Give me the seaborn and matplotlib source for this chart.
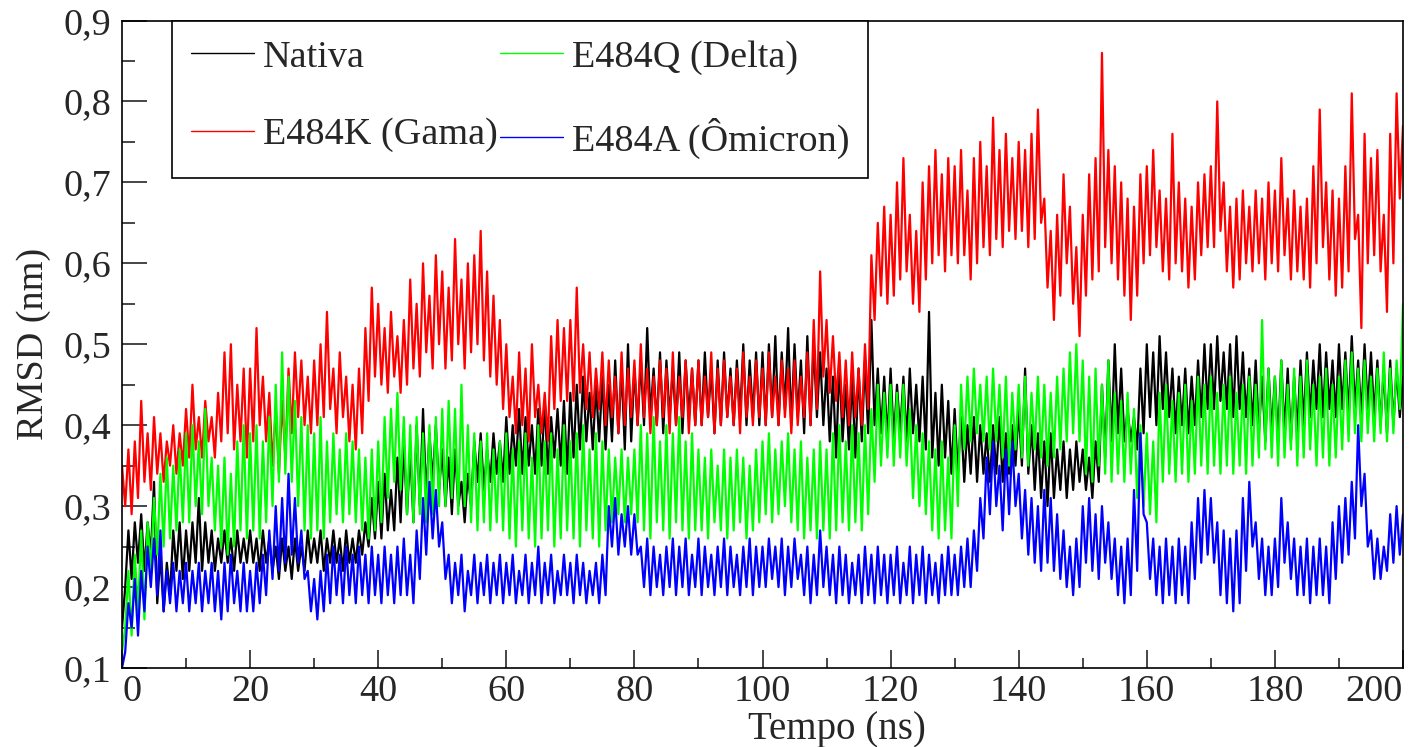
import numpy as np
import pandas as pd
import matplotlib
matplotlib.use("Agg")
import matplotlib.pyplot as plt
import seaborn as sns
from matplotlib.ticker import MultipleLocator, FuncFormatter, FixedLocator

series_names = ["Nativa", "E484K (Gama)", "E484Q (Delta)", "E484A (Ômicron)"]
series_colors = ["#000000", "#ff0000", "#00ff00", "#0000ff"]
x_ticks = [0, 20, 40, 60, 80, 100, 120, 140, 160, 180, 200]
y_ticks = [0.1, 0.2, 0.3, 0.4, 0.5, 0.6, 0.7, 0.8, 0.9]

# Each noisy trace is read as its upper edge (t = 0, 1, ..., 200 ns)
# and its lower edge (t = 0.5, 1.5, ..., 199.5 ns), in nm.
nativa_hi = [
    0.15, 0.27, 0.28, 0.29, 0.28, 0.33, 0.24, 0.23, 0.27, 0.28,
    0.27, 0.28, 0.31, 0.28, 0.27, 0.26, 0.27, 0.26, 0.27, 0.26,
    0.27, 0.26, 0.27, 0.26, 0.25, 0.26, 0.25, 0.26, 0.25, 0.27,
    0.26, 0.27, 0.26, 0.27, 0.26, 0.27, 0.26, 0.27, 0.28, 0.31,
    0.33, 0.34, 0.32, 0.36, 0.38, 0.37, 0.40, 0.42, 0.39, 0.40,
    0.37, 0.36, 0.37, 0.33, 0.34, 0.38, 0.39, 0.37, 0.39, 0.38,
    0.41, 0.40, 0.42, 0.41, 0.40, 0.42, 0.43, 0.41, 0.42, 0.43,
    0.44, 0.45, 0.46, 0.44, 0.45, 0.46, 0.45, 0.48, 0.47, 0.50,
    0.47, 0.48, 0.52, 0.47, 0.49, 0.48, 0.47, 0.49, 0.48, 0.47,
    0.48, 0.49, 0.47, 0.48, 0.49, 0.47, 0.48, 0.50, 0.48, 0.49,
    0.49, 0.50, 0.51, 0.49, 0.52, 0.50, 0.48, 0.51, 0.50, 0.49,
    0.47, 0.46, 0.48, 0.45, 0.46, 0.47, 0.48, 0.53, 0.47, 0.46,
    0.47, 0.45, 0.46, 0.47, 0.45, 0.46, 0.54, 0.44, 0.45, 0.43,
    0.42, 0.41, 0.40, 0.41, 0.40, 0.39, 0.40, 0.41, 0.39, 0.40,
    0.42, 0.47, 0.40, 0.39, 0.38, 0.39, 0.37, 0.38, 0.37, 0.38,
    0.37, 0.36, 0.38, 0.45, 0.48, 0.50, 0.47, 0.42, 0.41, 0.47,
    0.50, 0.49, 0.51, 0.49, 0.47, 0.46, 0.47, 0.46, 0.48, 0.50,
    0.50, 0.51, 0.49, 0.50, 0.51, 0.49, 0.47, 0.48, 0.46, 0.47,
    0.46, 0.48, 0.47, 0.46, 0.48, 0.49, 0.48, 0.50, 0.49, 0.48,
    0.50, 0.49, 0.51, 0.48, 0.50, 0.49, 0.48, 0.47, 0.48, 0.47,
    0.46,
]
nativa_lo = [
    0.20, 0.21, 0.23, 0.22, 0.24, 0.18, 0.17, 0.19, 0.22, 0.21,
    0.22, 0.23, 0.22, 0.23, 0.22, 0.23, 0.23, 0.22, 0.23, 0.23,
    0.23, 0.22, 0.23, 0.22, 0.21, 0.22, 0.21, 0.22, 0.22, 0.23,
    0.23, 0.22, 0.23, 0.23, 0.22, 0.23, 0.23, 0.24, 0.25, 0.26,
    0.26, 0.27, 0.27, 0.28, 0.29, 0.28, 0.30, 0.31, 0.33, 0.32,
    0.30, 0.29, 0.30, 0.28, 0.30, 0.33, 0.32, 0.33, 0.34, 0.33,
    0.34, 0.35, 0.34, 0.35, 0.34, 0.35, 0.34, 0.36, 0.35, 0.34,
    0.36, 0.37, 0.38, 0.37, 0.38, 0.37, 0.38, 0.39, 0.37, 0.38,
    0.40, 0.40, 0.41, 0.40, 0.39, 0.41, 0.40, 0.39, 0.41, 0.40,
    0.40, 0.41, 0.39, 0.40, 0.41, 0.40, 0.41, 0.40, 0.41, 0.40,
    0.40, 0.41, 0.40, 0.42, 0.40, 0.41, 0.39, 0.40, 0.41, 0.40,
    0.38, 0.36, 0.38, 0.37, 0.36, 0.38, 0.39, 0.40, 0.39, 0.38,
    0.38, 0.39, 0.38, 0.39, 0.38, 0.37, 0.36, 0.35, 0.36, 0.34,
    0.34, 0.33, 0.34, 0.33, 0.34, 0.33, 0.34, 0.33, 0.34, 0.35,
    0.35, 0.34, 0.32, 0.31, 0.30, 0.31, 0.32, 0.31, 0.32, 0.33,
    0.32, 0.31, 0.33, 0.36, 0.38, 0.39, 0.38, 0.38, 0.37, 0.39,
    0.41, 0.40, 0.42, 0.41, 0.39, 0.40, 0.39, 0.40, 0.41, 0.42,
    0.42, 0.43, 0.42, 0.41, 0.42, 0.41, 0.40, 0.39, 0.38, 0.39,
    0.38, 0.39, 0.38, 0.39, 0.40, 0.41, 0.42, 0.41, 0.42, 0.41,
    0.42, 0.41, 0.42, 0.41, 0.42, 0.41, 0.40, 0.39, 0.40, 0.41,
]

gama_hi = [
    0.35, 0.37, 0.38, 0.43, 0.39, 0.41, 0.39, 0.38, 0.40, 0.39,
    0.42, 0.45, 0.41, 0.43, 0.41, 0.44, 0.49, 0.50, 0.45, 0.47,
    0.47, 0.52, 0.46, 0.44, 0.42, 0.43, 0.47, 0.49, 0.48, 0.46,
    0.48, 0.50, 0.54, 0.47, 0.49, 0.46, 0.45, 0.47, 0.52, 0.57,
    0.55, 0.52, 0.54, 0.51, 0.53, 0.58, 0.55, 0.60, 0.56, 0.61,
    0.59, 0.57, 0.63, 0.58, 0.60, 0.61, 0.64, 0.59, 0.56, 0.53,
    0.50, 0.46, 0.49, 0.47, 0.50, 0.45, 0.44, 0.51, 0.53, 0.52,
    0.53, 0.57, 0.50, 0.49, 0.47, 0.49, 0.48, 0.46, 0.49, 0.47,
    0.48, 0.50, 0.47, 0.46, 0.48, 0.47, 0.49, 0.46, 0.48, 0.47,
    0.48, 0.46, 0.49, 0.47, 0.48, 0.46, 0.47, 0.49, 0.46, 0.48,
    0.47, 0.49, 0.46, 0.48, 0.47, 0.48, 0.46, 0.49, 0.53, 0.59,
    0.53, 0.51, 0.49, 0.48, 0.49, 0.47, 0.50, 0.61, 0.65, 0.67,
    0.66, 0.70, 0.73, 0.66, 0.64, 0.70, 0.72, 0.74, 0.71, 0.73,
    0.72, 0.74, 0.69, 0.73, 0.75, 0.72, 0.78, 0.74, 0.76, 0.73,
    0.75, 0.74, 0.76, 0.79, 0.68, 0.64, 0.66, 0.71, 0.67, 0.62,
    0.66, 0.71, 0.73, 0.86, 0.74, 0.72, 0.70, 0.68, 0.67, 0.71,
    0.72, 0.74, 0.69, 0.68, 0.76, 0.70, 0.68, 0.67, 0.70, 0.71,
    0.72, 0.80, 0.70, 0.67, 0.68, 0.69, 0.67, 0.69, 0.68, 0.70,
    0.69, 0.73, 0.68, 0.69, 0.67, 0.68, 0.72, 0.79, 0.70, 0.69,
    0.68, 0.72, 0.81, 0.66, 0.76, 0.73, 0.74, 0.66, 0.76, 0.81,
    0.77,
]
gama_lo = [
    0.30, 0.29, 0.31, 0.33, 0.32, 0.34, 0.33, 0.35, 0.34, 0.35,
    0.36, 0.37, 0.36, 0.38, 0.36, 0.38, 0.39, 0.37, 0.38, 0.36,
    0.38, 0.40, 0.38, 0.35, 0.34, 0.36, 0.39, 0.41, 0.40, 0.39,
    0.40, 0.41, 0.42, 0.39, 0.41, 0.38, 0.37, 0.39, 0.43, 0.46,
    0.45, 0.44, 0.46, 0.44, 0.45, 0.47, 0.46, 0.49, 0.47, 0.50,
    0.47, 0.48, 0.50, 0.47, 0.49, 0.50, 0.48, 0.46, 0.45, 0.42,
    0.41, 0.39, 0.40, 0.38, 0.41, 0.39, 0.38, 0.42, 0.43, 0.43,
    0.43, 0.44, 0.42, 0.41, 0.42, 0.40, 0.41, 0.39, 0.40, 0.41,
    0.40, 0.41, 0.39, 0.40, 0.41, 0.39, 0.40, 0.41, 0.39, 0.40,
    0.40, 0.41, 0.39, 0.40, 0.41, 0.40, 0.39, 0.41, 0.40, 0.41,
    0.40, 0.41, 0.40, 0.41, 0.39, 0.40, 0.41, 0.40, 0.42, 0.46,
    0.44, 0.43, 0.41, 0.40, 0.41, 0.40, 0.42, 0.53, 0.56, 0.55,
    0.56, 0.58, 0.59, 0.55, 0.54, 0.58, 0.60, 0.61, 0.59, 0.61,
    0.60, 0.61, 0.58, 0.60, 0.62, 0.61, 0.63, 0.62, 0.64, 0.63,
    0.64, 0.62, 0.63, 0.65, 0.57, 0.53, 0.56, 0.60, 0.55, 0.51,
    0.56, 0.58, 0.59, 0.62, 0.60, 0.58, 0.56, 0.53, 0.56, 0.60,
    0.61, 0.62, 0.59, 0.58, 0.60, 0.59, 0.57, 0.58, 0.61, 0.62,
    0.62, 0.64, 0.59, 0.57, 0.58, 0.60, 0.59, 0.60, 0.58, 0.60,
    0.59, 0.61, 0.58, 0.59, 0.58, 0.57, 0.60, 0.62, 0.58, 0.56,
    0.57, 0.59, 0.63, 0.52, 0.60, 0.61, 0.59, 0.54, 0.60, 0.68,
]

delta_hi = [
    0.12, 0.22, 0.24, 0.27, 0.28, 0.31, 0.34, 0.36, 0.35, 0.37,
    0.39, 0.40, 0.38, 0.42, 0.36, 0.35, 0.36, 0.34, 0.38, 0.40,
    0.39, 0.40, 0.38, 0.41, 0.45, 0.49, 0.46, 0.43, 0.41, 0.40,
    0.39, 0.41, 0.38, 0.39, 0.37, 0.39, 0.38, 0.37, 0.36, 0.37,
    0.38, 0.41, 0.42, 0.44, 0.41, 0.40, 0.41, 0.39, 0.40, 0.41,
    0.42, 0.43, 0.42, 0.45, 0.40, 0.39, 0.38, 0.39, 0.37, 0.38,
    0.39, 0.37, 0.38, 0.39, 0.36, 0.40, 0.38, 0.39, 0.37, 0.40,
    0.38, 0.39, 0.40, 0.37, 0.39, 0.38, 0.37, 0.36, 0.37, 0.36,
    0.37, 0.40, 0.39, 0.41, 0.38, 0.40, 0.39, 0.41, 0.38, 0.39,
    0.37, 0.36, 0.37, 0.35, 0.37, 0.36, 0.37, 0.36, 0.35, 0.37,
    0.38, 0.39, 0.37, 0.38, 0.39, 0.37, 0.38, 0.36, 0.37, 0.38,
    0.37, 0.39, 0.40, 0.38, 0.40, 0.39, 0.40, 0.42, 0.45, 0.44,
    0.45, 0.44, 0.45, 0.42, 0.40, 0.39, 0.38, 0.37, 0.38, 0.36,
    0.40, 0.45, 0.46, 0.47, 0.45, 0.46, 0.47, 0.45, 0.46, 0.44,
    0.45, 0.46, 0.44, 0.46, 0.45, 0.44, 0.46, 0.47, 0.49, 0.50,
    0.48, 0.46, 0.47, 0.45, 0.48, 0.44, 0.43, 0.44, 0.42, 0.40,
    0.39, 0.38, 0.44, 0.45, 0.43, 0.44, 0.45, 0.43, 0.46, 0.45,
    0.46, 0.44, 0.45, 0.46, 0.44, 0.45, 0.46, 0.45, 0.53, 0.47,
    0.46, 0.48, 0.45, 0.47, 0.46, 0.48, 0.45, 0.46, 0.47, 0.45,
    0.46, 0.48, 0.49, 0.47, 0.48, 0.46, 0.47, 0.49, 0.47, 0.48,
    0.55,
]
delta_lo = [
    0.15, 0.14, 0.17, 0.16, 0.22, 0.24, 0.25, 0.26, 0.27, 0.28,
    0.28, 0.30, 0.29, 0.30, 0.27, 0.25, 0.24, 0.25, 0.27, 0.26,
    0.27, 0.26, 0.28, 0.30, 0.33, 0.34, 0.33, 0.30, 0.27, 0.26,
    0.27, 0.26, 0.28, 0.29, 0.28, 0.29, 0.28, 0.27, 0.26, 0.27,
    0.28, 0.31, 0.33, 0.32, 0.29, 0.28, 0.29, 0.28, 0.29, 0.30,
    0.30, 0.31, 0.29, 0.30, 0.28, 0.27, 0.28, 0.27, 0.28, 0.27,
    0.26, 0.25, 0.27, 0.26, 0.25, 0.26, 0.27, 0.25, 0.26, 0.27,
    0.26, 0.25, 0.27, 0.26, 0.25, 0.27, 0.28, 0.29, 0.28, 0.29,
    0.28, 0.27, 0.26, 0.28, 0.27, 0.26, 0.28, 0.27, 0.26, 0.27,
    0.27, 0.26, 0.28, 0.27, 0.26, 0.27, 0.28, 0.26, 0.27, 0.28,
    0.29, 0.28, 0.29, 0.30, 0.28, 0.27, 0.26, 0.27, 0.26, 0.27,
    0.26, 0.27, 0.28, 0.27, 0.28, 0.27, 0.29, 0.33, 0.35, 0.36,
    0.35, 0.36, 0.35, 0.31, 0.30, 0.29, 0.27, 0.26, 0.27, 0.26,
    0.30, 0.37, 0.38, 0.39, 0.38, 0.37, 0.38, 0.36, 0.35, 0.37,
    0.36, 0.35, 0.37, 0.36, 0.35, 0.36, 0.37, 0.38, 0.39, 0.38,
    0.34, 0.33, 0.35, 0.34, 0.33, 0.34, 0.33, 0.34, 0.31, 0.30,
    0.29, 0.28, 0.33, 0.34, 0.33, 0.34, 0.33, 0.34, 0.35, 0.34,
    0.35, 0.34, 0.35, 0.34, 0.35, 0.34, 0.35, 0.36, 0.37, 0.36,
    0.35, 0.36, 0.37, 0.35, 0.36, 0.37, 0.35, 0.36, 0.35, 0.36,
    0.37, 0.38, 0.39, 0.38, 0.39, 0.38, 0.39, 0.38, 0.39, 0.42,
]

omicron_hi = [
    0.10, 0.18, 0.21, 0.22, 0.25, 0.26, 0.27, 0.22, 0.23, 0.22,
    0.23, 0.22, 0.23, 0.22, 0.23, 0.22, 0.23, 0.24, 0.22, 0.23,
    0.22, 0.23, 0.24, 0.27, 0.30, 0.31, 0.34, 0.31, 0.27, 0.22,
    0.21, 0.22, 0.24, 0.25, 0.24, 0.25, 0.24, 0.25, 0.24, 0.25,
    0.24, 0.25, 0.24, 0.25, 0.26, 0.24, 0.27, 0.31, 0.33, 0.32,
    0.28, 0.24, 0.23, 0.24, 0.22, 0.24, 0.23, 0.24, 0.23, 0.24,
    0.23, 0.24, 0.22, 0.24, 0.23, 0.25, 0.23, 0.24, 0.22, 0.24,
    0.23, 0.24, 0.23, 0.22, 0.23, 0.24, 0.30, 0.31, 0.29, 0.30,
    0.29, 0.25, 0.26, 0.25, 0.24, 0.25, 0.26, 0.25, 0.26, 0.24,
    0.26, 0.25, 0.24, 0.25, 0.26, 0.25, 0.24, 0.25, 0.26, 0.25,
    0.25, 0.26, 0.25, 0.26, 0.25, 0.26, 0.24, 0.25, 0.24, 0.27,
    0.25, 0.24, 0.25, 0.24, 0.23, 0.24, 0.25, 0.24, 0.25, 0.24,
    0.24, 0.25, 0.23, 0.25, 0.24, 0.25, 0.24, 0.23, 0.24, 0.25,
    0.24, 0.25, 0.26, 0.27, 0.31, 0.36, 0.38, 0.35, 0.37, 0.38,
    0.34, 0.32, 0.31, 0.30, 0.32, 0.31, 0.29, 0.27, 0.25, 0.26,
    0.30, 0.31, 0.29, 0.30, 0.28, 0.26, 0.25, 0.26, 0.32, 0.39,
    0.28, 0.26, 0.25, 0.26, 0.25, 0.26, 0.25, 0.28, 0.31, 0.32,
    0.31, 0.28, 0.27, 0.26, 0.27, 0.31, 0.33, 0.28, 0.26, 0.25,
    0.26, 0.31, 0.28, 0.26, 0.25, 0.26, 0.25, 0.26, 0.25, 0.28,
    0.30, 0.31, 0.33, 0.40, 0.34, 0.27, 0.26, 0.25, 0.29, 0.30,
    0.29,
]
omicron_lo = [
    0.12, 0.15, 0.14, 0.17, 0.20, 0.19, 0.17, 0.18, 0.17, 0.18,
    0.17, 0.18, 0.17, 0.18, 0.17, 0.16, 0.17, 0.18, 0.17, 0.17,
    0.17, 0.18, 0.19, 0.21, 0.22, 0.23, 0.24, 0.23, 0.21, 0.17,
    0.16, 0.17, 0.18, 0.19, 0.18, 0.19, 0.18, 0.19, 0.18, 0.19,
    0.18, 0.19, 0.18, 0.19, 0.19, 0.18, 0.21, 0.24, 0.26, 0.25,
    0.21, 0.18, 0.19, 0.17, 0.19, 0.18, 0.19, 0.18, 0.19, 0.18,
    0.19, 0.18, 0.19, 0.18, 0.19, 0.18, 0.19, 0.18, 0.19, 0.19,
    0.18, 0.19, 0.18, 0.19, 0.18, 0.19, 0.25, 0.24, 0.25, 0.24,
    0.24, 0.20, 0.19, 0.20, 0.19, 0.20, 0.19, 0.20, 0.19, 0.20,
    0.19, 0.20, 0.19, 0.20, 0.19, 0.20, 0.19, 0.20, 0.19, 0.20,
    0.20, 0.21, 0.20, 0.19, 0.20, 0.21, 0.19, 0.18, 0.19, 0.20,
    0.19, 0.18, 0.19, 0.18, 0.19, 0.18, 0.19, 0.18, 0.19, 0.18,
    0.19, 0.18, 0.19, 0.18, 0.19, 0.18, 0.19, 0.18, 0.19, 0.19,
    0.19, 0.20, 0.20, 0.22, 0.26, 0.29, 0.30, 0.27, 0.29, 0.30,
    0.26, 0.24, 0.23, 0.22, 0.23, 0.22, 0.21, 0.20, 0.19, 0.20,
    0.23, 0.22, 0.21, 0.23, 0.21, 0.19, 0.18, 0.19, 0.22, 0.29,
    0.21, 0.19, 0.18, 0.19, 0.18, 0.19, 0.18, 0.21, 0.23, 0.24,
    0.23, 0.19, 0.18, 0.17, 0.18, 0.22, 0.25, 0.21, 0.19, 0.19,
    0.20, 0.23, 0.21, 0.19, 0.19, 0.18, 0.19, 0.19, 0.18, 0.21,
    0.23, 0.24, 0.26, 0.30, 0.25, 0.21, 0.21, 0.22, 0.23, 0.24,
]

series_hi = [nativa_hi, gama_hi, delta_hi, omicron_hi]
series_lo = [nativa_lo, gama_lo, delta_lo, omicron_lo]


def trace_frame(hi, lo, name):
    t_hi = np.arange(len(hi), dtype=float)
    t_lo = np.arange(len(lo), dtype=float) + 0.5
    df = pd.DataFrame({
        "Tempo": np.concatenate([t_hi, t_lo]),
        "RMSD": np.concatenate([np.asarray(hi, float), np.asarray(lo, float)]),
    }).sort_values("Tempo")
    df["Série"] = name
    return df


sns.set_theme(style="white")
plt.rcParams["font.family"] = ["Liberation Serif", "DejaVu Serif"]

W, H = 1411, 747
fig = plt.figure(figsize=(W / 100, H / 100), dpi=100)
ax = fig.add_axes([122 / W, 1 - 668 / H, (1403 - 122) / W, (668 - 20.5) / H])

for hi, lo, name, col in zip(series_hi, series_lo, series_names, series_colors):
    sns.lineplot(data=trace_frame(hi, lo, name), x="Tempo", y="RMSD",
                 color=col, linewidth=1.6, estimator=None, sort=False,
                 legend=False, ax=ax)

lines = ax.get_lines()[:4]
leg = ax.legend(handles=lines, labels=series_names, ncol=2, loc="upper left",
                bbox_to_anchor=(172 / W, 1 - 21 / H), bbox_transform=fig.transFigure,
                frameon=True, fancybox=False, framealpha=1, edgecolor="black",
                fontsize=27.5, handlelength=1.65, handletextpad=0.22,
                columnspacing=0.08, labelspacing=1.12, borderpad=0.5,
                borderaxespad=0)
leg.get_frame().set_linewidth(1.2)
for h in leg.legend_handles:
    h.set_linewidth(1.0)

ax.set_xlim(0, 200)
ax.set_ylim(0.1, 0.9)
ax.xaxis.set_major_locator(FixedLocator(x_ticks))
ax.xaxis.set_minor_locator(MultipleLocator(10))
ax.yaxis.set_major_locator(FixedLocator(y_ticks))
ax.yaxis.set_minor_locator(MultipleLocator(0.05))
ax.yaxis.set_major_formatter(FuncFormatter(lambda v, p: f"{v:.1f}".replace(".", ",")))
ax.xaxis.set_major_formatter(FuncFormatter(lambda v, p: f"{v:.0f}"))

ax.tick_params(axis="x", which="major", direction="in", length=13, width=1.2,
               labelsize=27.5, pad=5, bottom=True, top=False)
ax.tick_params(axis="x", which="minor", direction="in", length=7, width=1.2,
               bottom=True, top=False)
ax.tick_params(axis="y", which="major", direction="in", length=18, width=1.2,
               labelsize=27.5, pad=8, left=True, right=False)
ax.tick_params(axis="y", which="minor", direction="in", length=9, width=1.2,
               left=True, right=False)
for s in ax.spines.values():
    s.set_color("black")
    s.set_linewidth(1.2)

ax.set_xlabel("Tempo (ns)", fontsize=28)
ax.xaxis.set_label_coords((837 - 122) / (1403 - 122), -0.066)
ax.set_ylabel("RMSD (nm)", fontsize=27.5, labelpad=9)

fig.canvas.draw()
for tick in ax.xaxis.get_major_ticks():
    loc = tick.get_loc()
    if loc is None:
        continue
    if abs(loc - 0) < 1e-6:
        tick.label1.set_horizontalalignment("left")
    elif abs(loc - 200) < 1e-6:
        tick.label1.set_horizontalalignment("right")

fig.savefig("out.png", dpi=100, facecolor="white")
